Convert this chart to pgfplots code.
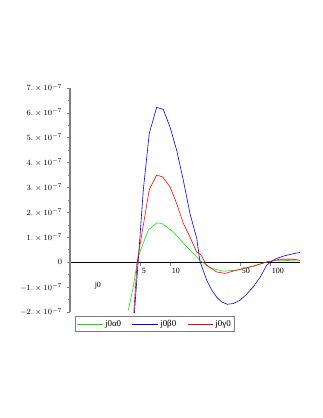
\documentclass[border=0pt]{standalone}
\usepackage{fontspec}
\setmainfont{Liberation Serif}
\usepackage{pgfplots}
\pgfplotsset{compat=1.18}
\definecolor{mgreen}{RGB}{0,240,0}
\definecolor{mblue}{RGB}{0,0,255}
\definecolor{mred}{RGB}{255,0,0}

\begin{document}
\begin{tikzpicture}[font=\footnotesize]
\useasboundingbox (-70bp,-106bp) rectangle (253bp,312bp);
\begin{axis}[
  at={(0,0)}, anchor=south west,
  scale only axis, width=230bp, height=224bp,
  xmode=log, xmin=1, xmax=200,
  ymin=-2e-7, ymax=7e-7,
  axis x line=middle, axis y line=left,
  axis line style={-},
  x axis line style={black, line width=0.6pt},
  y axis line style={gray, line width=1.2pt},
  xtick={5,10,50,100}, xticklabels={5,10,50,100},
  minor xtick={},
  xticklabel style={anchor=north west, xshift=-1.5pt, yshift=1pt},
  ytick={-2e-7,-1e-7,0,1e-7,2e-7,3e-7,4e-7,5e-7,6e-7,7e-7},
  yticklabels={$-2.\times10^{-7}$,$-1.\times10^{-7}$,$0$,$1.\times10^{-7}$,$2.\times10^{-7}$,$3.\times10^{-7}$,$4.\times10^{-7}$,$5.\times10^{-7}$,$6.\times10^{-7}$,$7.\times10^{-7}$},
  minor ytick={-1.5e-7,-0.5e-7,0.5e-7,1.5e-7,2.5e-7,3.5e-7,4.5e-7,5.5e-7,6.5e-7},
  scaled y ticks=false,
  tick align=outside,
  major tick length=3.5pt, minor tick length=2pt,
  every tick/.style={gray, line width=0.6pt},
  yticklabel style={xshift=-1pt},
  legend columns=3,
  legend style={at={(0.022,-0.018)}, anchor=north west, draw=gray, line width=0.8pt,
    font=\small, inner sep=1.5pt,
    /tikz/every even column/.append style={column sep=9pt}},
  legend image code/.code={\draw[#1, line width=0.6pt] (0cm,0cm) -- (0.9cm,0cm);},
]
\addplot[color=mgreen, draw=mgreen, line width=0.6pt] coordinates {
  (3.83,-1.93e-7) (4.30,-0.99e-7) (4.70,0.01e-7) (5.01,0.41e-7) (6.07,1.29e-7)
  (7.36,1.58e-7) (8.26,1.56e-7) (10.79,1.22e-7) (14.69,0.62e-7) (19.95,0.08e-7)
  (25.1,-0.23e-7) (34.1,-0.36e-7) (46.4,-0.32e-7) (68.1,-0.16e-7) (92.7,0.01e-7)
  (125.9,0.08e-7) (199.5,0.05e-7)};
\addlegendentry{j0α0}
\addplot[color=mblue, draw=mblue, line width=0.6pt] coordinates {
  (4.37,-2.25e-7) (4.82,0.08e-7) (5.41,2.9e-7) (6.21,5.18e-7) (7.36,6.22e-7)
  (8.57,6.14e-7) (10,5.44e-7) (11.67,4.5e-7) (13.6,3.3e-7) (15.85,1.96e-7)
  (18.5,0.97e-7) (19.95,0.04e-7) (23.3,-0.72e-7) (26,-1.1e-7) (29.3,-1.4e-7)
  (33,-1.6e-7) (37.4,-1.69e-7) (43,-1.66e-7) (50.1,-1.53e-7) (58,-1.3e-7)
  (68.1,-0.99e-7) (80,-0.6e-7) (92.7,-0.12e-7) (105,0.05e-7) (116.6,0.15e-7)
  (135,0.24e-7) (158.5,0.31e-7) (175,0.35e-7) (199.5,0.39e-7)};
\addlegendentry{j0β0}
\addplot[color=mred, draw=mred, line width=0.6pt] coordinates {
  (4.30,-2.3e-7) (4.70,0.01e-7) (6.21,2.92e-7) (7.36,3.5e-7) (8.45,3.43e-7)
  (10,3.03e-7) (11.67,2.36e-7) (13.6,1.56e-7) (15.85,1.02e-7) (18.5,0.41e-7)
  (20.3,0.31e-7) (23.3,-0.12e-7) (29.3,-0.39e-7) (35.5,-0.45e-7) (46.4,-0.32e-7)
  (68.1,-0.16e-7) (92.7,0.01e-7) (125.9,0.12e-7) (171,0.12e-7) (199.5,0.08e-7)};
\addlegendentry{j0γ0}
\node at (axis cs:1.9,-0.93e-7) {j0};
\end{axis}
\end{tikzpicture}
\end{document}
